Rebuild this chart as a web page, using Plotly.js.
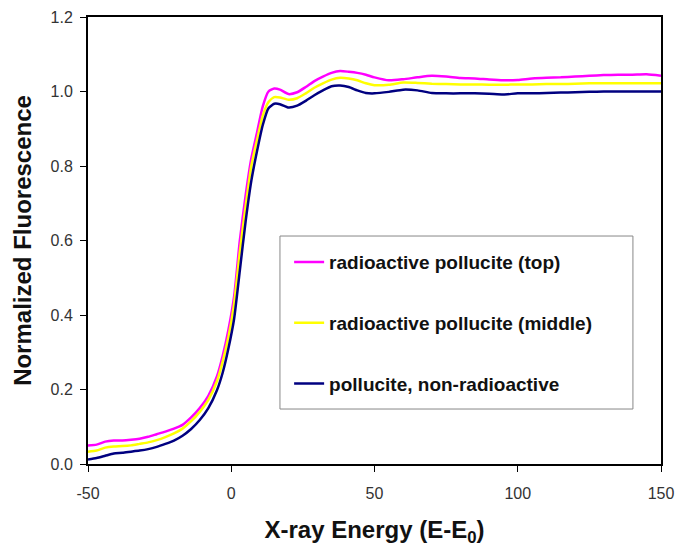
<!DOCTYPE html>
<html>
<head>
<meta charset="utf-8">
<script src="https://cdn.plot.ly/plotly-3.0.1.min.js"></script>
<style>html,body{margin:0;padding:0;background:#fff;}#chart{width:677px;height:547px;}</style>
</head>
<body>
<div id="chart"></div>
<script>
const energy = [-50,-47,-44,-41,-38,-35,-32,-29,-26,-23,-20,-17,-14,-11,-8,-5,-3,-1,1,3,5,7,9,11,13,15,17,20,23,26,29,32,35,38,41,44,47,50,55,60,65,70,75,80,85,90,95,100,105,110,115,120,125,130,135,140,145,150];

const topValues = [0.050,0.052,0.060,0.063,0.063,0.065,0.068,0.073,0.080,0.087,0.095,0.105,0.125,0.150,0.183,0.235,0.29,0.36,0.45,0.60,0.72,0.82,0.89,0.96,1.000,1.008,1.005,0.993,0.998,1.012,1.028,1.040,1.050,1.055,1.053,1.050,1.045,1.038,1.030,1.033,1.038,1.042,1.040,1.036,1.035,1.032,1.030,1.031,1.035,1.037,1.038,1.040,1.042,1.044,1.045,1.045,1.046,1.042];

const middleValues = [0.033,0.036,0.044,0.047,0.048,0.050,0.054,0.058,0.064,0.072,0.082,0.095,0.115,0.140,0.172,0.222,0.275,0.34,0.43,0.57,0.69,0.80,0.87,0.935,0.972,0.985,0.984,0.978,0.982,0.995,1.010,1.022,1.032,1.037,1.035,1.030,1.022,1.017,1.018,1.024,1.023,1.021,1.020,1.019,1.019,1.018,1.018,1.019,1.019,1.020,1.020,1.021,1.022,1.022,1.022,1.022,1.022,1.022];

const nonRadValues = [0.012,0.016,0.022,0.028,0.030,0.033,0.036,0.040,0.046,0.054,0.063,0.076,0.094,0.118,0.150,0.198,0.245,0.31,0.39,0.52,0.65,0.76,0.84,0.91,0.955,0.967,0.966,0.957,0.962,0.975,0.990,1.003,1.014,1.016,1.012,1.003,0.996,0.995,0.999,1.005,1.003,0.996,0.995,0.995,0.995,0.994,0.992,0.995,0.995,0.996,0.997,0.998,0.999,1.000,1.000,1.000,1.000,1.000];

const seriesNames = ["radioactive pollucite (top)", "radioactive pollucite (middle)", "pollucite, non-radioactive"];
const xTicks = [-50, 0, 50, 100, 150];
const yTicks = [0, 0.2, 0.4, 0.6, 0.8, 1.0, 1.2];

const colors = ["#FF00FF", "#FFFF00", "#000080"];
const seriesValues = [topValues, middleValues, nonRadValues];

const traces = seriesValues.map((v, i) => ({
  x: energy, y: v, type: "scatter", mode: "lines",
  name: seriesNames[i], legendgroup: "g" + i,
  line: {color: colors[i], width: 2.5, shape: "spline", smoothing: 0.6}
}));

const layout = {
  width: 677, height: 547,
  margin: {l: 88, r: 16, t: 17, b: 83},
  paper_bgcolor: "#fff", plot_bgcolor: "#fff",
  font: {family: "Liberation Sans, Arial, sans-serif", color: "#333"},
  showlegend: true,
  legend: {
    x: 0.351, y: 0.494, xanchor: "left", yanchor: "top",
    bgcolor: "rgba(0,0,0,0)", borderwidth: 0,
    tracegroupgap: 33,
    font: {family: "Liberation Sans, Arial, sans-serif", size: 19, color: "#111", weight: "bold"}
  },
  shapes: [{
    type: "rect", xref: "paper", yref: "paper",
    x0: 0.335, x1: 0.951, y0: 0.123, y1: 0.510,
    line: {color: "#888", width: 1}, fillcolor: "rgba(0,0,0,0)"
  }],
  xaxis: {
    range: [-50, 150], tickvals: xTicks, ticktext: xTicks.map(String),
    automargin: false,
    showgrid: false, zeroline: false,
    showline: true, linecolor: "#000", linewidth: 2, mirror: true,
    ticks: "outside", ticklen: 6, tickcolor: "#000", tickwidth: 1,
    ticklabelstandoff: 8,
    tickfont: {size: 16, color: "#333"},
    title: {text: "X-ray Energy (E-E<sub>0</sub>)", font: {size: 24, color: "#111", weight: "bold"}, standoff: 26}
  },
  yaxis: {
    range: [0, 1.2], tickvals: yTicks, ticktext: yTicks.map(v => v.toFixed(1)),
    showgrid: false, zeroline: false,
    showline: true, linecolor: "#000", linewidth: 2, mirror: true,
    ticks: "outside", ticklen: 6, tickcolor: "#000", tickwidth: 1,
    ticklabelstandoff: 4,
    tickfont: {size: 16, color: "#333"},
    title: {text: "Normalized Fluorescence", font: {size: 24, color: "#111", weight: "bold"}, standoff: 12}
  }
};

Plotly.newPlot("chart", traces, layout, {displayModeBar: false, staticPlot: true});
</script>
</body>
</html>
